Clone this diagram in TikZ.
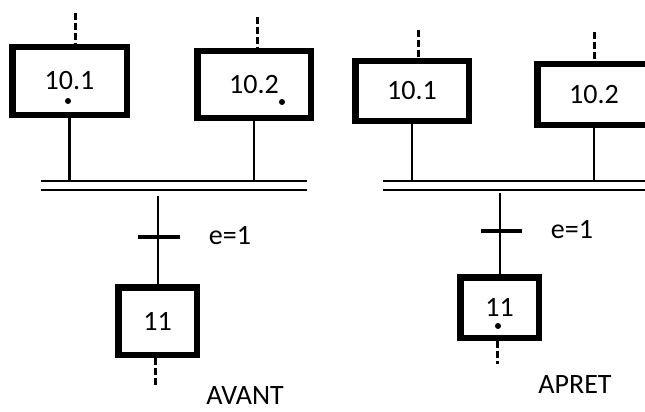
\documentclass[tikz,border=0pt]{standalone}
\usepackage{fontspec}
\setmainfont{Carlito}
\begin{document}
\begin{tikzpicture}[x=1pt,y=-1pt,
  tappa/.style={draw,line width=6.5pt,inner sep=0pt,font=\fontsize{28}{30}\selectfont},
  filo/.style={line width=2.5pt},
  tratteggio/.style={line width=3pt,dash pattern=on 7pt off 3pt},
  barra/.style={line width=2.5pt},
  trans/.style={line width=3.5pt},
  testo/.style={inner sep=0pt,font=\fontsize{28}{30}\selectfont}]
% Definisci le variabili
\def\punto{3pt}  % Raggio del gettone
\def\gap{9pt}    % Distanza fra le due linee della barra

\useasboundingbox (0,0) rectangle (645,412);
\clip (0,0) rectangle (645,412);

% Grafcet di sinistra
\node[tappa,minimum width=114.5pt,minimum height=67.5pt] (a101) at (69.5,81) {10.1};
\node[tappa,minimum width=113.5pt,minimum height=66.5pt] (a102) at (254,84.5) {10.2};
\node[tappa,minimum width=78.5pt,minimum height=67.5pt] (a11) at (157.5,321) {11};
\fill (68,101) circle (\punto);
\fill (282,102) circle (\punto);

\coordinate (aIn1) at (75,13);
\coordinate (aIn2) at (257,17);
\draw[tratteggio] (aIn1) -- (aIn1 |- a101.north);
\draw[tratteggio] (aIn2) -- (aIn2 |- a102.north);

% Barra doppia (convergenza in ET)
\coordinate (aB1) at (41,181);
\coordinate (aB2) at (307,181);
\draw[barra] (aB1) -- (aB2);
\draw[barra] ([yshift=-\gap]aB1) -- ([yshift=-\gap]aB2);
\draw[filo] (a101.south) -- (a101.south |- aB1);
\draw[filo] (a102.south) -- (a102.south |- aB1);

% Transizione e tappa 11
\coordinate (aGiu) at (158,196);
\coordinate (aT) at (158,237);
\draw[filo] (aGiu) -- (aGiu |- a11.north);
\draw[trans] ([xshift=-20pt]aT) -- ([xshift=22pt]aT);
\node[testo] (aE) at (230,236) {e=1};
\coordinate (aOut) at (155,385);
\draw[tratteggio] (aOut |- a11.south) -- (aOut);
\node[testo] (aLab) at (245,396) {AVANT};

% Grafcet di destra
\node[tappa,minimum width=113.5pt,minimum height=59.5pt] (b101) at (412,91) {10.1};
\node[tappa,minimum width=113.5pt,minimum height=60.5pt] (b102) at (594,94.5) {10.2};
\node[tappa,minimum width=78.5pt,minimum height=60.5pt] (b11) at (499.5,307.5) {11};
\fill (498,326) circle (\punto);

\coordinate (bIn1) at (418,30);
\coordinate (bIn2) at (594,32);
\draw[tratteggio] (bIn1) -- (bIn1 |- b101.north);
\draw[tratteggio] (bIn2) -- (bIn2 |- b102.north);

% Barra doppia
\coordinate (bB1) at (383,181);
\coordinate (bB2) at (650,181);
\draw[barra] (bB1) -- (bB2);
\draw[barra] ([yshift=-\gap]bB1) -- ([yshift=-\gap]bB2);
\draw[filo] (b101.south) -- (b101.south |- bB1);
\draw[filo] (b102.south) -- (b102.south |- bB1);

% Transizione e tappa 11
\coordinate (bGiu) at (500,193);
\coordinate (bT) at (500,231);
\draw[filo] (bGiu) -- (bGiu |- b11.north);
\draw[trans] ([xshift=-19pt]bT) -- ([xshift=22pt]bT);
\node[testo] (bE) at (572,230) {e=1};
\coordinate (bOut) at (497,364);
\draw[tratteggio] (bOut |- b11.south) -- (bOut);
\node[testo] (bLab) at (575,385) {APRET};

\end{tikzpicture}
\end{document}
